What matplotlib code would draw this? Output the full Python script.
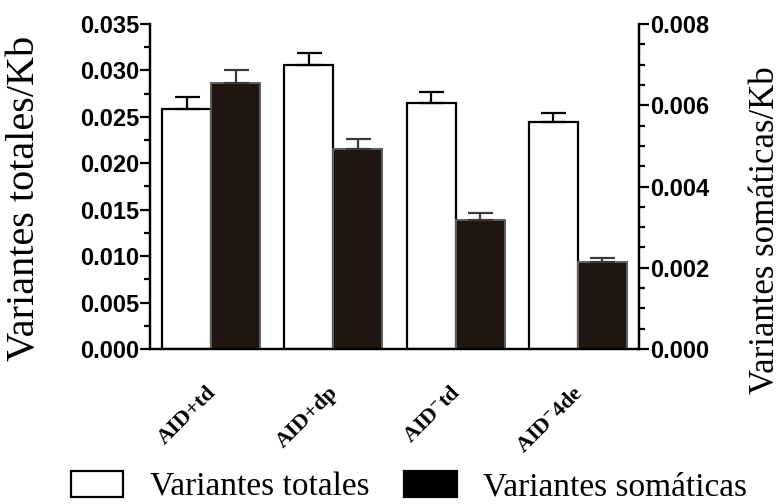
import numpy as np
import matplotlib
matplotlib.use("Agg")
import matplotlib.pyplot as plt
from matplotlib.patches import Patch
from matplotlib.ticker import MultipleLocator
import matplotlib.transforms as mtransforms

plt.rcParams['mathtext.fontset'] = 'custom'
plt.rcParams['mathtext.rm'] = 'Liberation Serif:bold'
plt.rcParams['mathtext.it'] = 'Liberation Serif:bold:italic'

# datos
grupos = ['AID+td', 'AID+dp', 'AID$^{-}$td', 'AID$^{-}$4de']
totales = [0.0259, 0.0306, 0.0265, 0.0244]
totales_err = [0.0012, 0.0013, 0.0012, 0.0010]
somaticas = [0.00654, 0.00492, 0.00317, 0.00213]
somaticas_err = [0.00033, 0.00025, 0.00019, 0.00010]

x = np.arange(len(grupos))
w = 0.4

fig = plt.figure(figsize=(7.81, 5.04), dpi=100)
ax = fig.add_axes([150 / 781, 1 - 349 / 504, 489 / 781, 325 / 504])
ax2 = ax.twinx()

ax.bar(x - w / 2, totales, w, color='white', edgecolor='black', linewidth=1.6,
       yerr=[np.zeros(len(x)), totales_err], capsize=9,
       error_kw=dict(elinewidth=1.6, capthick=1.6, ecolor='black'))
ax2.bar(x + w / 2, somaticas, w, color='#1f1612', edgecolor='#5e5e5e', linewidth=1.4,
        yerr=[np.zeros(len(x)), somaticas_err], capsize=9,
        error_kw=dict(elinewidth=1.6, capthick=1.6, ecolor='#3a3a3a'))

ax.set_xlim(-0.5, 3.5)
ax.set_ylim(0, 0.035)
ax2.set_ylim(0, 0.008)

ax.yaxis.set_major_locator(MultipleLocator(0.005))
ax.yaxis.set_minor_locator(MultipleLocator(0.0025))
ax2.yaxis.set_major_locator(MultipleLocator(0.002))
ax2.yaxis.set_minor_locator(MultipleLocator(0.0005))
ax.yaxis.set_major_formatter(matplotlib.ticker.FormatStrFormatter('%.3f'))
ax2.yaxis.set_major_formatter(matplotlib.ticker.FormatStrFormatter('%.3f'))

for a in (ax, ax2):
    a.spines['top'].set_visible(False)
    for s in ('left', 'right', 'bottom'):
        a.spines[s].set_linewidth(1.6)
    a.tick_params(axis='y', which='major', length=7, width=1.6, pad=1,
                  labelsize=17)
    a.tick_params(axis='y', which='minor', length=4, width=1.6)
    for lab in a.get_yticklabels():
        lab.set_family('Liberation Sans')
        lab.set_fontweight('bold')

ax.set_xticks(x)
ax.set_xticklabels(grupos, rotation=45, ha='right', fontsize=16,
                   family='Liberation Serif', fontweight='bold')
ax.tick_params(axis='x', length=0, pad=24)
offset = mtransforms.ScaledTranslation(9 / 100, 0, fig.dpi_scale_trans)
for lab in ax.get_xticklabels():
    lab.set_transform(lab.get_transform() + offset)

fig.text(25 / 781, 1 - 198 / 504, 'Variantes totales/Kb', rotation=90,
         ha='center', va='center', fontsize=29, family='Liberation Serif')
fig.text(766 / 781, 1 - 230 / 504, 'Variantes somáticas/Kb', rotation=90,
         ha='center', va='center', fontsize=25, family='Liberation Serif')

handles = [Patch(facecolor='white', edgecolor='black', linewidth=1.6),
           Patch(facecolor='black', edgecolor='black', linewidth=1.6)]
fig.legend(handles, ['Variantes totales', 'Variantes somáticas'], ncol=2,
           loc='center', bbox_to_anchor=(409 / 781, 1 - 487 / 504),
           frameon=False, borderpad=0, handlelength=1.57, handleheight=0.79,
           handletextpad=0.79, columnspacing=1.06,
           prop={'family': 'Liberation Serif', 'size': 24})

fig.savefig('out.png', dpi=100)
